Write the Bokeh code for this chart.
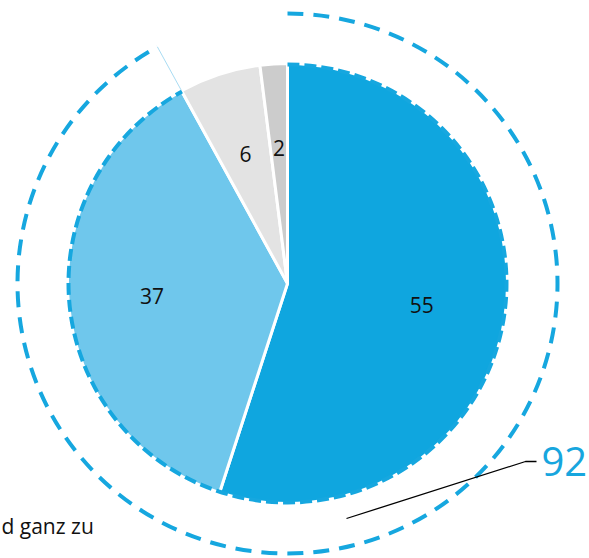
import math
from bokeh.plotting import figure
from bokeh.models import Range1d, ColumnDataSource
from bokeh.core.properties import value
from bokeh.embed import file_html
from bokeh.resources import INLINE

# data
categories = ["voll und ganz", "eher", "eher nicht", "gar nicht"]
values = [55, 37, 6, 2]
colors = ["#0fa6df", "#6fc7ec", "#e3e3e3", "#cccccc"]
total_label = "92"
legend_text = "d ganz zu"

FONT = "Open Sans"
R = 220
R_OUT = 270
DASH_BLUE = "#16a7df"

W, H = 589, 556
CX, CY = 287, 283  # pie centre in page pixels
p = figure(width=W, height=H, output_backend="svg", toolbar_location=None,
           x_range=Range1d(-CX, W - CX), y_range=Range1d(CY - H, CY),
           min_border=0)
p.axis.visible = False
p.grid.visible = False
p.outline_line_color = None
p.background_fill_color = "white"

tot = sum(values)
starts, ends, mids = [], [], []
cum = 0
for v in values:
    a0 = math.pi / 2 - 2 * math.pi * cum / tot
    cum += v
    a1 = math.pi / 2 - 2 * math.pi * cum / tot
    starts.append(a0)
    ends.append(a1)
    mids.append((a0 + a1) / 2)

src = ColumnDataSource(dict(start=starts, end=ends, color=colors))
p.wedge(x=0, y=0, radius=R, start_angle="start", end_angle="end", direction="clock",
        fill_color="color", line_color="white", line_width=3, source=src)

# dashed edge on blue part
n_blue = 2
p.arc(x=0, y=0, radius=R - 1, start_angle=starts[0], end_angle=ends[n_blue - 1],
      direction="clock", line_color=DASH_BLUE, line_width=4, line_dash="12 5")

# outer ring for the combined share
p.arc(x=0, y=0, radius=R_OUT, start_angle=starts[0], end_angle=ends[n_blue - 1],
      direction="clock", line_color=DASH_BLUE, line_width=4, line_dash="16 10")

# faint radial line at end of ring
ea = ends[n_blue - 1]
p.segment(x0=[R * math.cos(ea)], y0=[R * math.sin(ea)],
          x1=[R_OUT * math.cos(ea)], y1=[R_OUT * math.sin(ea)],
          line_color="#a9dcf3", line_width=1)

# slice labels
lr = 136
p.text(x=[lr * math.cos(m) for m in mids], y=[lr * math.sin(m) for m in mids],
       text=[str(v) for v in values], text_font=value(FONT), text_font_size="21px",
       text_align="center", text_baseline="middle", text_color="#111111")

# leader line and total label
p.line(x=[59, 238, 249], y=[-235, -178, -178], line_color="black", line_width=1.3)
p.text(x=[254], y=[-178], text=[total_label], text_font=value(FONT), text_font_size="40px",
       text_align="left", text_baseline="middle", text_color="#17a6de")

p.text(x=[-CX + 1], y=[-242], text=[legend_text], text_font=value(FONT), text_font_size="21px",
       text_align="left", text_baseline="middle", text_color="#111111")

open("out.html", "w").write(file_html(p, INLINE))
